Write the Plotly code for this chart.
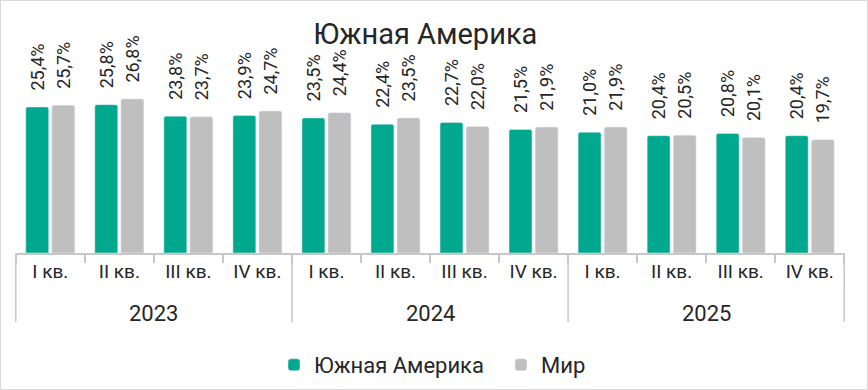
import plotly.graph_objects as go

years = ["2023", "2024", "2025"]
quarters = ["I кв.", "II кв.", "III кв.", "IV кв."]
south_america = [25.4, 25.8, 23.8, 23.9, 23.5, 22.4, 22.7, 21.5, 21.0, 20.4, 20.8, 20.4]
world = [25.7, 26.8, 23.7, 24.7, 24.4, 23.5, 22.0, 21.9, 21.9, 20.5, 20.1, 19.7]

categories = [f"{y} {q}" for y in years for q in quarters]
tick_text = [q for y in years for q in quarters]


def fmt(v):
    return "\u00a0\u00a0\u00a0" + f"{v:.1f}".replace(".", ",") + "%"


FONT = "Roboto"
TXT = "#262626"
GRID = "#C8C8C8"

L, R, T, B = 15, 23, 25, 137
W, H = 868, 390
pw, ph = W - L - R, H - T - B

fig = go.Figure()
for name, vals, col in [("Южная Америка", south_america, "#00A88E"), ("Мир", world, "#BFBFBF")]:
    fig.add_trace(go.Bar(
        x=categories, y=vals, name=name,
        marker=dict(color=col, cornerradius=2),
        text=[fmt(v) for v in vals],
        textposition="outside", textangle=-90, cliponaxis=False, constraintext="none",
        textfont=dict(size=18, color=TXT, family=FONT),
        hoverinfo="x+y",
    ))

shapes = []
n_q = len(quarters)
for i in range(len(years) + 1):
    xb = i * n_q - 0.5
    shapes.append(dict(type="line", xref="x", yref="paper", x0=xb, x1=xb,
                       y0=0, y1=-69 / ph, line=dict(color=GRID, width=1.5)))
shapes.append(dict(type="rect", xref="paper", yref="paper",
                   x0=(0.5 - L) / pw, x1=(W - 0.5 - L) / pw,
                   y0=-(B - 0.5) / ph, y1=1 + (T - 0.5) / ph,
                   line=dict(color="#D9D9D9", width=1), fillcolor="rgba(0,0,0,0)", layer="below"))

annotations = []
for i, y in enumerate(years):
    annotations.append(dict(x=i * n_q + (n_q - 1) / 2, xref="x", y=-60 / ph, yref="paper",
                            text=y, showarrow=False, xanchor="center", yanchor="middle",
                            font=dict(size=22, color=TXT, family=FONT)))

fig.update_layout(
    width=W, height=H,
    margin=dict(l=L, r=R, t=T, b=B, autoexpand=False),
    paper_bgcolor="white", plot_bgcolor="white",
    barmode="group", bargap=0.245, bargroupgap=0.12,
    font=dict(family=FONT, color=TXT, size=18),
    title=dict(text="Южная Америка", x=0.49, xanchor="center", y=1 - 34 / H, yanchor="middle",
               font=dict(size=29, color=TXT, family=FONT)),
    showlegend=True,
    legend=dict(orientation="h", x=(288 - 14 - L) / pw, xanchor="left", y=(253 - 365) / ph,
                yanchor="middle", entrywidth=182, entrywidthmode="pixels",
                font=dict(size=22, color=TXT, family=FONT), itemwidth=30),
    xaxis=dict(type="category", showline=True, linecolor=GRID, linewidth=1.5,
               tickmode="array", tickvals=categories, ticktext=tick_text,
               ticks="outside", tickson="boundaries", ticklen=8, tickcolor=GRID, tickwidth=1.5,
               tickfont=dict(size=19, color=TXT, family=FONT), automargin=False),
    yaxis=dict(visible=False, range=[0, ph / 5.75]),
    shapes=shapes,
    annotations=annotations,
)

fig.write_html("out.html", config={"displayModeBar": False},
               post_script="document.body.style.margin='0';")
